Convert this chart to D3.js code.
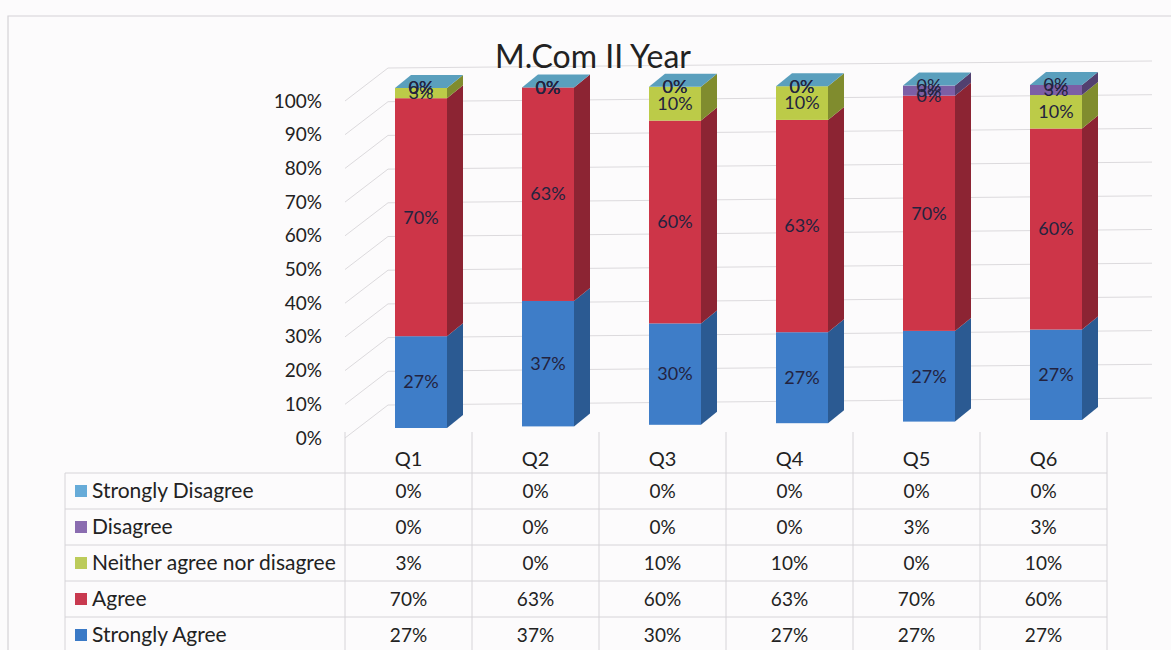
<!DOCTYPE html>
<meta charset="utf-8">
<script src="https://d3js.org/d3.v7.min.js"></script>
<style>
  body { margin: 0; background: #fcfbfc; }
  text { font-family: Lato, "Open Sans", sans-serif; }
</style>
<div id="my_dataviz"></div>
<script>

// data
var questions = ["Q1", "Q2", "Q3", "Q4", "Q5", "Q6"];
var seriesNames = ["Strongly Agree", "Agree", "Neither agree nor disagree", "Disagree", "Strongly Disagree"];
var stronglyAgree = [27, 37, 30, 27, 27, 27];
var agree = [70, 63, 60, 63, 70, 60];
var neither = [3, 0, 10, 10, 0, 10];
var disagree = [0, 0, 0, 0, 3, 3];
var stronglyDisagree = [0, 0, 0, 0, 0, 0];
var yTicks = [0, 10, 20, 30, 40, 50, 60, 70, 80, 90, 100];

var seriesValues = [stronglyAgree, agree, neither, disagree, stronglyDisagree];
var frontColors = ["#3e7dc8", "#cd3548", "#bccb48", "#7c5fa5", "#4c98b9"];
var sideColors = ["#2b5a92", "#8c2433", "#808c2e", "#52406f", "#346b83"];
var legendColors = ["#3a79c6", "#c8394f", "#bccb5a", "#8a6cb0", "#66abd8"];

var W = 1171, H = 650;
var svg = d3.select("#my_dataviz").append("svg")
    .attr("width", W).attr("height", H);

svg.append("rect").attr("width", W).attr("height", H).attr("fill", "#fcfbfc");

// chart frame
svg.append("path")
    .attr("d", "M8,650 L8,16 L1171,16")
    .attr("fill", "none").attr("stroke", "#d4d2d6").attr("stroke-width", 1.2);

// scales
var x = d3.scaleBand().domain(questions).range([345, 1107]);
var yFront = d3.scaleLinear().domain([0, 100]).range([438, 101]);
var depthX = 43, depthY = -33;

// walls: gridlines on side wall and back wall
var grid = svg.append("g");
yTicks.forEach(function(t) {
  var y0 = yFront(t);
  grid.append("path")
    .attr("d", "M345," + y0 + " L" + (345 + depthX) + "," + (y0 + depthY) +
          " L1152," + (y0 + depthY - 7))
    .attr("fill", "none").attr("stroke", "#dcdadd").attr("stroke-width", 1);
});

// title
svg.append("text")
    .attr("x", 593).attr("y", 68)
    .attr("text-anchor", "middle")
    .attr("font-size", 32).attr("fill", "#222")
    .text("M.Com II Year");

// y axis labels
var yAxis = svg.append("g")
    .attr("transform", "translate(330,0)")
    .call(d3.axisLeft(yFront).tickValues(yTicks).tickSize(0).tickPadding(8)
      .tickFormat(function(d) { return d + "%"; }));
yAxis.select(".domain").remove();
yAxis.selectAll("text").attr("font-size", 19).attr("fill", "#222")
    .style("font-family", "Lato, 'Open Sans', sans-serif");

// bars (slight perspective: bottom rises toward the right)
var barW = 52, dx = 16, dy = -13;
var bottomScale = d3.scaleLinear().domain([0, 5]).range([428, 420]);
var topScale = d3.scaleLinear().domain([0, 5]).range([88, 85]);

questions.forEach(function(q, i) {
  var yb = d3.scaleLinear().domain([0, 100]).range([bottomScale(i), topScale(i)]);
  var x0 = x(q) + 50, x1 = x0 + barW;
  var g = svg.append("g");
  var cum = 0;
  var segs = [];
  seriesValues.forEach(function(vals, s) {
    var v = vals[i];
    segs.push({s: s, v: v, a: cum, b: cum + v});
    cum += v;
  });
  segs.forEach(function(d) {
    var ya = yb(d.a), ybb = yb(d.b);
    g.append("rect")
      .attr("x", x0).attr("y", ybb)
      .attr("width", barW).attr("height", Math.max(0, ya - ybb))
      .attr("fill", frontColors[d.s]);
    g.append("path")
      .attr("d", "M" + x1 + "," + ya + " L" + (x1 + dx) + "," + (ya + dy) +
            " L" + (x1 + dx) + "," + (ybb + dy) + " L" + x1 + "," + ybb + "Z")
      .attr("fill", sideColors[d.s]);
  });
  // top face takes the colour of the last series
  var yt = yb(cum);
  g.append("path")
    .attr("d", "M" + x0 + "," + yt + " L" + x1 + "," + yt + " L" + (x1 + dx) + "," + (yt + dy) +
          " L" + (x0 + dx) + "," + (yt + dy) + "Z")
    .attr("fill", "#5a9fbd");
  // data labels (the 0% ones stack on top of each other, as in the original)
  segs.forEach(function(d) {
    g.append("text")
      .attr("x", x0 + barW / 2)
      .attr("y", yb((d.a + d.b) / 2))
      .attr("dy", "0.35em")
      .attr("text-anchor", "middle")
      .attr("font-size", 18).attr("fill", "#23233f")
      .text(d.v + "%");
  });
});

// data table
var table = svg.append("g");
var rowLines = [473, 509, 545, 581, 617, 653];
var rowH = 36;
questions.concat(["end"]).forEach(function(q, i) {
  var xx = i < questions.length ? x(q) : x.range()[1];
  table.append("line")
    .attr("x1", xx).attr("x2", xx).attr("y1", 432).attr("y2", 650)
    .attr("stroke", "#d6d4d8");
});
rowLines.forEach(function(y) {
  table.append("line")
    .attr("x1", 65).attr("x2", x.range()[1]).attr("y1", y).attr("y2", y)
    .attr("stroke", "#d6d4d8");
});
table.append("line")
  .attr("x1", 65).attr("x2", 65).attr("y1", 473).attr("y2", 650)
  .attr("stroke", "#d6d4d8");

questions.forEach(function(q) {
  table.append("text")
    .attr("x", x(q) + x.bandwidth() / 2).attr("y", 459)
    .attr("dy", "0.35em").attr("text-anchor", "middle")
    .attr("font-size", 20).attr("fill", "#222")
    .text(q);
});

// table rows, top row is the last series
var order = [4, 3, 2, 1, 0];
order.forEach(function(s, r) {
  var cy = rowLines[r] + rowH / 2;
  table.append("rect")
    .attr("x", 75).attr("y", cy - 6).attr("width", 12).attr("height", 12)
    .attr("fill", legendColors[s]);
  table.append("text")
    .attr("x", 92).attr("y", cy).attr("dy", "0.35em")
    .attr("font-size", 21).attr("fill", "#222")
    .text(seriesNames[s]);
  questions.forEach(function(q, i) {
    table.append("text")
      .attr("x", x(q) + x.bandwidth() / 2).attr("y", cy)
      .attr("dy", "0.35em").attr("text-anchor", "middle")
      .attr("font-size", 19).attr("fill", "#222")
      .text(seriesValues[s][i] + "%");
  });
});

</script>
